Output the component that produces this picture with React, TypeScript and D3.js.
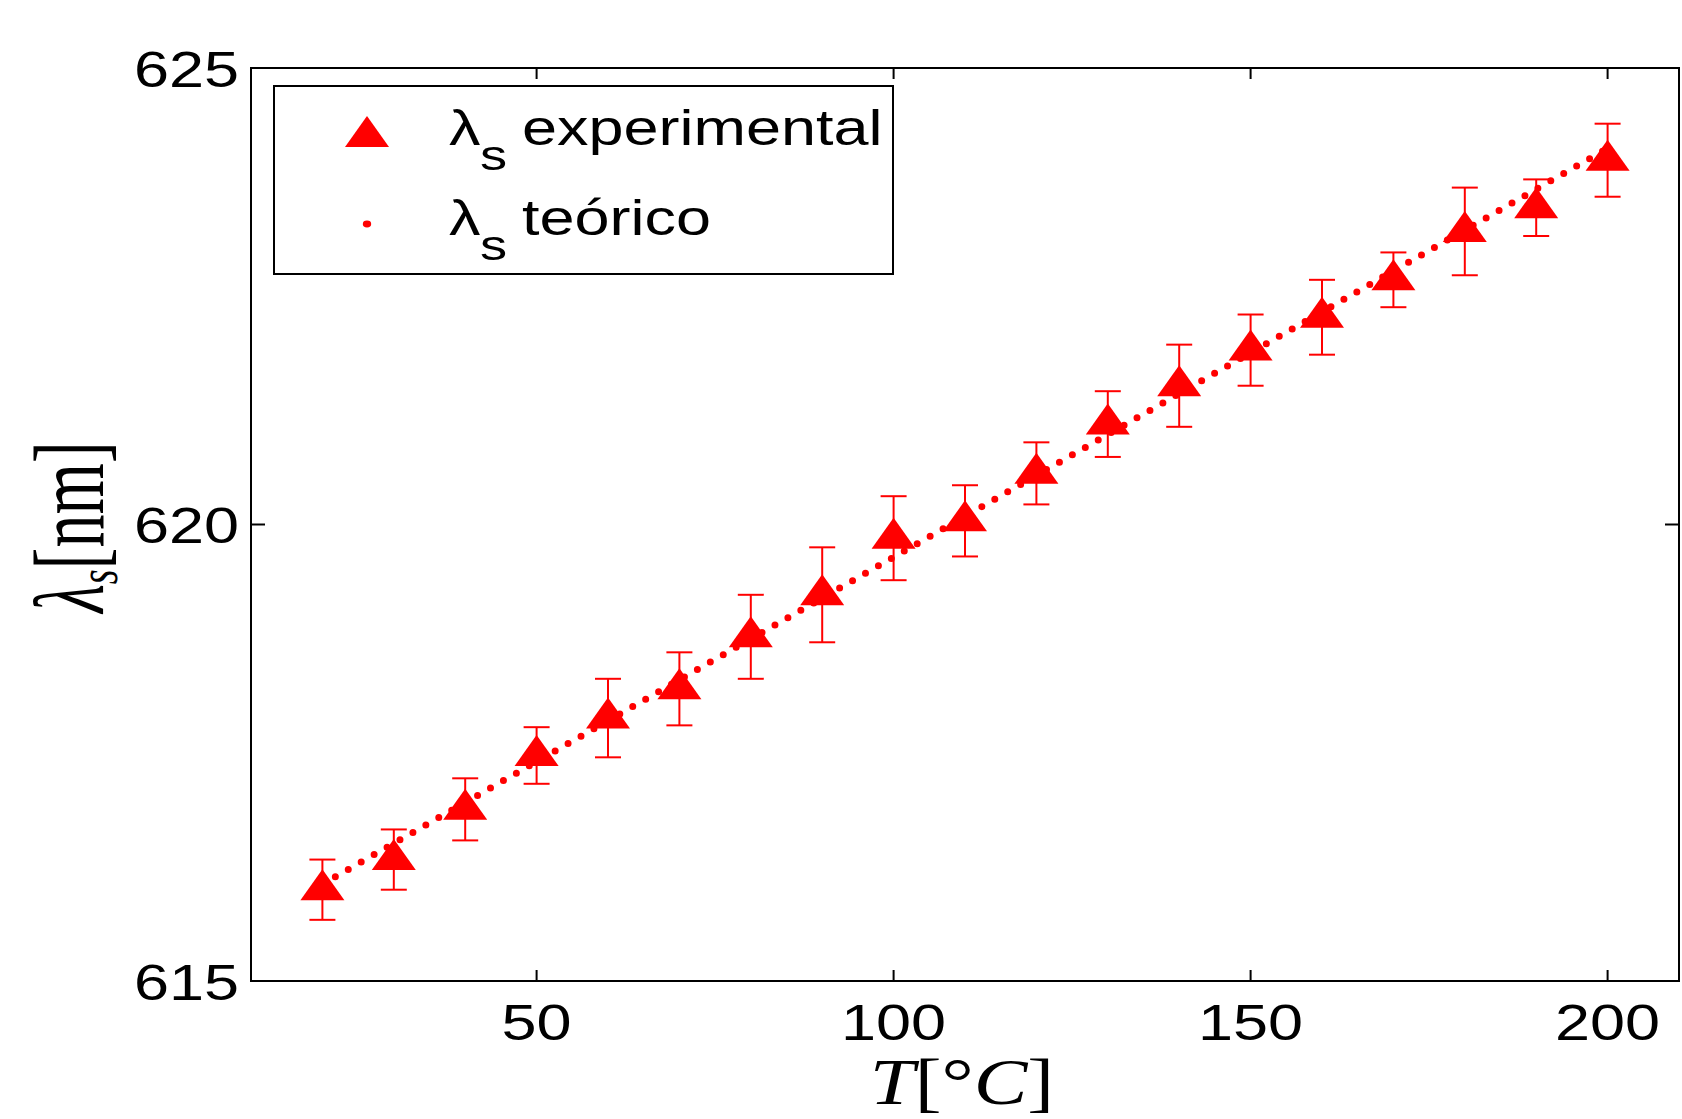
import React from 'react';
import * as d3 from 'd3';

// measured temperatures and wavelengths
const temps = [20, 30, 40, 50, 60, 70, 80, 90, 100, 110, 120, 130, 140, 150, 160, 170, 180, 190, 200];
const lambdaExp = [616.0, 616.33, 616.88, 617.47, 617.88, 618.2, 618.77, 619.23, 619.85, 620.04, 620.56, 621.1, 621.52, 621.91, 622.27, 622.68, 623.21, 623.47, 623.99];
const lambdaErr = [0.33, 0.33, 0.34, 0.31, 0.43, 0.4, 0.46, 0.52, 0.46, 0.39, 0.34, 0.36, 0.45, 0.39, 0.41, 0.3, 0.48, 0.31, 0.4];

// theoretical curve (straight line)
const theoryTemps = [20, 200];
const lambdaTheory = [616.06, 624.12];

const xTicks = [50, 100, 150, 200];
const yTicks = [615, 620, 625];

const width = 1682;
const height = 1119;
const margin = { top: 68, right: 3, bottom: 138, left: 251 };
const red = '#ff0000';
const sx = 1.26; // glyphs in the original are wide

const App = () => {
  const { top, right, bottom, left } = margin;
  const innerWidth = width - left - right;
  const innerHeight = height - top - bottom;

  const xScale = d3.scaleLinear().domain([10, 210]).range([0, innerWidth]);
  const yScale = d3.scaleLinear().domain([615, 625]).range([innerHeight, 0]);

  const theoryLine = d3
    .line<number>()
    .x((d, i) => xScale(theoryTemps[i]))
    .y(d => yScale(d));

  const tri = 'M0,-20.5 L22,10.5 L-22,10.5 Z';
  const font = "'Liberation Sans', Arial, Helvetica, sans-serif";
  const serif = "'Liberation Serif', 'Times New Roman', serif";

  return (
    <svg
      width={width}
      height={height}
      style={{ position: 'absolute', left: 0, top: 0, background: '#fff' }}
    >
      <rect width={width} height={height} fill="#fff" />
      <g transform={`translate(${left}, ${top})`}>
        {/* error bars */}
        {temps.map((t, i) => {
          const cx = xScale(t);
          const y1 = yScale(lambdaExp[i] + lambdaErr[i]);
          const y2 = yScale(lambdaExp[i] - lambdaErr[i]);
          return (
            <g key={'e' + t} stroke={red} strokeWidth={2}>
              <line x1={cx} x2={cx} y1={y1} y2={y2} />
              <line x1={cx - 13} x2={cx + 13} y1={y1} y2={y1} />
              <line x1={cx - 13} x2={cx + 13} y1={y2} y2={y2} />
            </g>
          );
        })}
        {temps.map((t, i) => (
          <path
            key={'m' + t}
            d={tri}
            fill={red}
            transform={`translate(${xScale(t)}, ${yScale(lambdaExp[i])})`}
          />
        ))}
        <path
          d={theoryLine(lambdaTheory) || ''}
          fill="none"
          stroke={red}
          strokeWidth={7}
          strokeLinecap="round"
          strokeDasharray="0 14.9"
        />

        {/* axes box and ticks */}
        <rect width={innerWidth} height={innerHeight} fill="none" stroke="#000" strokeWidth={2} />
        {xTicks.map(tick => (
          <g key={'x' + tick} transform={`translate(${xScale(tick)}, 0)`}>
            <line y1={innerHeight} y2={innerHeight - 11} stroke="#000" strokeWidth={2} />
            <line y1={0} y2={11} stroke="#000" strokeWidth={2} />
            <text
              transform={`translate(0, ${innerHeight + 59}) scale(${sx}, 1)`}
              textAnchor="middle"
              fontFamily={font}
              fontSize={50}
              fill="#000"
            >
              {tick}
            </text>
          </g>
        ))}
        {yTicks.map(tick => (
          <g key={'y' + tick} transform={`translate(0, ${yScale(tick)})`}>
            <line x1={0} x2={14} stroke="#000" strokeWidth={2} />
            <line x1={innerWidth} x2={innerWidth - 14} stroke="#000" strokeWidth={2} />
            <text
              transform={`translate(-12, 18.5) scale(${sx}, 1)`}
              textAnchor="end"
              fontFamily={font}
              fontSize={50}
              fill="#000"
            >
              {tick}
            </text>
          </g>
        ))}
      </g>

      {/* axis labels */}
      <text
        transform={`translate(962, 1104) scale(1.22, 1)`}
        textAnchor="middle"
        fontFamily={serif}
        fontSize={66}
        fill="#000"
      >
        <tspan fontStyle="italic">T</tspan>
        <tspan>[°</tspan>
        <tspan fontStyle="italic">C</tspan>
        <tspan>]</tspan>
      </text>
      <text
        transform={`translate(103, 527) scale(1.5, 1) rotate(-90)`}
        textAnchor="middle"
        fontFamily={serif}
        fontSize={66}
        fill="#000"
      >
        <tspan fontStyle="italic">λ</tspan>
        <tspan fontStyle="italic" fontSize={38} dy={9}>s</tspan>
        <tspan dy={-9}>[nm]</tspan>
      </text>

      {/* legend */}
      <rect x={274} y={86} width={619} height={188} fill="#fff" stroke="#000" strokeWidth={2} />
      <path d={tri} fill={red} transform="translate(367, 136.5)" />
      <ellipse cx={367} cy={224} rx={4.2} ry={3.4} fill={red} />
      {[
        { y: 145, label: 'experimental' },
        { y: 235, label: 'teórico' },
      ].map(item => (
        <g key={item.label} fontFamily={font} fill="#000">
          <text transform={`translate(449, ${item.y}) scale(${sx}, 1)`} fontSize={50}>λ</text>
          <text transform={`translate(480, ${item.y + 25}) scale(${sx}, 1)`} fontSize={43}>s</text>
          <text transform={`translate(522, ${item.y}) scale(${sx}, 1)`} fontSize={50}>{item.label}</text>
        </g>
      ))}
    </svg>
  );
};

export default App;
